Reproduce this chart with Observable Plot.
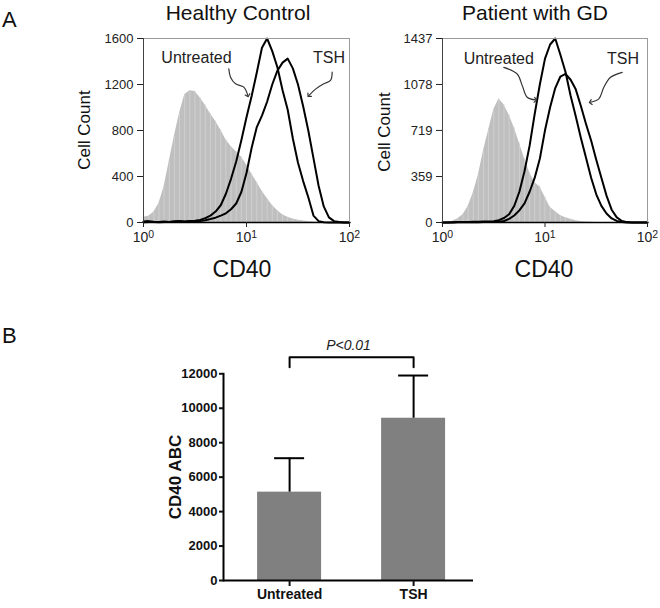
<!DOCTYPE html>
<html><head><meta charset="utf-8">
<script src="https://cdn.jsdelivr.net/npm/d3@7"></script>
<script src="https://cdn.jsdelivr.net/npm/@observablehq/plot@0.6"></script>
<style>
body{margin:0;background:#fff;}
#root{position:relative;width:660px;height:608px;overflow:hidden;font-family:"Liberation Sans",Arial,sans-serif;}
#root > svg{position:absolute;}
</style></head><body><div id="root"></div>
<script>
// ---- data: panel A (flow cytometry histograms, shared CD40 channels) ----
const cd40Channels = [1.000,1.122,1.259,1.413,1.585,1.778,1.995,2.239,2.512,2.818,3.162,3.548,3.981,4.467,5.012,5.623,6.310,7.079,7.943,8.913,10.00,11.22,12.59,14.13,15.85,17.78,19.95,22.39,25.12,28.18,31.62,35.48,39.81,44.67,50.12,56.23,63.10,70.79,79.43,89.13,100.0];
const hcShaded    = [45,55,90,165,310,530,750,950,1110,1145,1140,1085,1020,945,880,805,720,660,615,570,500,425,350,275,210,150,105,68,45,30,20,13,8,4,2,1,0,0,0,0,0];
const hcUntreated = [8,12,6,5,8,5,10,12,8,12,15,22,38,60,95,150,250,380,530,715,915,1100,1305,1520,1600,1490,1350,1150,980,730,520,360,220,60,12,3,0,0,0,0,0];
const hcTSH       = [3,5,4,3,5,4,6,8,6,8,10,14,20,30,42,60,80,115,165,265,430,650,830,930,1050,1200,1320,1390,1425,1340,1200,1010,800,560,320,140,45,12,4,0,0];
const gdShaded    = [0,2,10,30,60,125,230,370,560,720,880,965,920,840,740,620,500,390,310,280,200,120,85,55,38,25,14,7,4,2,0,0,0,0,0,0,0,0,0,0,0];
const gdUntreated = [0,0,2,3,3,4,5,6,7,8,10,18,35,65,130,240,400,600,850,1080,1280,1390,1437,1310,1175,990,830,660,505,350,220,130,70,32,12,4,0,0,0,0,0];
const gdTSH       = [0,0,0,1,1,2,2,2,3,3,4,5,12,28,55,95,150,240,350,500,720,900,1050,1140,1160,1115,1040,910,770,640,490,350,210,100,40,12,3,0,0,0,0];
const xTicks = [1, 10, 100];
const hcYTicks = [0, 400, 800, 1200, 1600];
const gdYTicks = [0, 359, 719, 1078, 1437];
const panelTitles = ["Healthy Control", "Patient with GD"];
// annotation labels and curly arrows (data coordinates: CD40, cell count)
const hcLabels = [{ch: 3.27, count: 1383, text: "Untreated"}, {ch: 63.2, count: 1383, text: "TSH"}];
const gdLabels = [{ch: 3.54, count: 1241, text: "Untreated"}, {ch: 57.7, count: 1241, text: "TSH"}];
const hcArrowUntreatedCh = [6.73, 7.0, 7.82, 9.42, 10.3];
const hcArrowUntreatedCt = [1337, 1264, 1206, 1177, 1104];
const hcArrowTSHCh = [67.9, 65.4, 56.3, 46.8, 40.3];
const hcArrowTSHCt = [1307, 1235, 1206, 1160, 1104];
const gdArrowUntreatedCh = [3.96, 5.35, 6.0, 6.7, 8.08];
const gdArrowUntreatedCt = [1212, 1161, 1069, 978, 957];
const gdArrowTSHCh = [56.6, 43.6, 37.5, 33.5, 27.8];
const gdArrowTSHCt = [1173, 1134, 1056, 965, 939];

// ---- data: panel B (bar chart) ----
const barGroups = ["Untreated", "TSH"];
const barMeans = [5130, 9420];
const barErrors = [1970, 2480];
const barYTicks = [0, 2000, 4000, 6000, 8000, 10000, 12000];
const bracketFoot = 12380;
const bracketTop = 12960;
const pLabel = "P<0.01";
const pLabelY = 13400;

const FONT = '"Liberation Sans", Arial, Helvetica, sans-serif';
const root = document.getElementById("root");
const supMap = {"⁰": "0", "¹": "1", "²": "2"};

function rows(counts) { return cd40Channels.map((ch, i) => ({ch, count: counts[i]})); }
function pts(chs, cts) { return chs.map((ch, i) => ({ch, count: cts[i]})); }

function histPanel({shaded, untreated, tsh, yTicks, labels, arrows, width, marginLeft, marginRight, left}) {
  const sh = rows(shaded), un = rows(untreated), ts = rows(tsh);
  const svg = Plot.plot({
    width, height: 290, marginTop: 38, marginBottom: 68, marginLeft, marginRight,
    x: {type: "log", domain: [1, 100]},
    y: {domain: [0, yTicks[yTicks.length - 1]]},
    style: {fontFamily: FONT, fontSize: "13px", color: "#222", background: "transparent", overflow: "visible"},
    marks: [
      Plot.areaY(sh, {x: "ch", y: "count", fill: "#bfbfbf"}),
      Plot.ruleX(sh, {x: "ch", y1: 0, y2: "count", stroke: "#d3d3d3", strokeWidth: 0.8}),
      Plot.lineY(un, {x: "ch", y: "count", stroke: "#000", strokeWidth: 2, strokeLinejoin: "round"}),
      Plot.lineY(ts, {x: "ch", y: "count", stroke: "#000", strokeWidth: 2, strokeLinejoin: "round"}),
      Plot.frame({stroke: "#9a9a9a"}),
      Plot.ruleX([1], {stroke: "#444"}),
      Plot.ruleY([0], {stroke: "#000", strokeWidth: 1.5}),
      Plot.axisX({ticks: xTicks, tickFormat: d => "10" + ["⁰", "¹", "²"][Math.round(Math.log10(d))], tickSize: 5, tickPadding: 5, fontSize: 14, label: null}),
      Plot.axisY({ticks: yTicks, tickFormat: d => String(d), tickSize: 6, tickPadding: 4, fontSize: 13, label: null}),
      Plot.text(labels, {x: "ch", y: "count", text: "text", fontSize: 16, lineAnchor: "bottom", textAnchor: "middle", fill: "#222"}),
      ...arrows.map(a => Plot.line(a, {x: "ch", y: "count", curve: "catmull-rom", markerEnd: "arrow", stroke: "#333", strokeWidth: 1.2}))
    ]
  });
  d3.select(svg).selectAll('g[aria-label="x-axis tick label"] text').each(function () {
    const s = this.textContent;
    const d = supMap[s.slice(-1)];
    if (d !== undefined) {
      this.textContent = "10";
      d3.select(this).append("tspan").attr("dy", "-0.45em").attr("font-size", "0.75em").text(d);
    }
  });
  svg.style.left = left + "px";
  svg.style.top = "0px";
  root.appendChild(svg);
}

histPanel({
  shaded: hcShaded, untreated: hcUntreated, tsh: hcTSH, yTicks: hcYTicks, labels: hcLabels,
  arrows: [pts(hcArrowUntreatedCh, hcArrowUntreatedCt), pts(hcArrowTSHCh, hcArrowTSHCt)],
  width: 355, marginLeft: 143, marginRight: 6, left: 0
});
histPanel({
  shaded: gdShaded, untreated: gdUntreated, tsh: gdTSH, yTicks: gdYTicks, labels: gdLabels,
  arrows: [pts(gdArrowUntreatedCh, gdArrowUntreatedCt), pts(gdArrowTSHCh, gdArrowTSHCt)],
  width: 305, marginLeft: 87, marginRight: 13, left: 355
});

// ---- panel B ----
const barRows = barGroups.map((g, i) => ({group: g, mean: barMeans[i], top: barMeans[i] + barErrors[i]}));
const bracket = [
  {group: barGroups[0], value: bracketFoot}, {group: barGroups[0], value: bracketTop},
  {group: barGroups[1], value: bracketTop}, {group: barGroups[1], value: bracketFoot}
];
const svgB = Plot.plot({
  width: 660, height: 308, marginTop: 73.3, marginBottom: 28, marginLeft: 223, marginRight: 187,
  x: {domain: barGroups, paddingInner: 0.484, paddingOuter: 0.25, align: 0.55, round: false},
  y: {domain: [0, 12000]},
  style: {fontFamily: FONT, fontSize: "13px", color: "#111", background: "transparent", overflow: "visible"},
  marks: [
    Plot.barY(barRows, {x: "group", y: "mean", fill: "#808080"}),
    Plot.ruleX(barRows, {x: "group", y1: "mean", y2: "top", stroke: "#000", strokeWidth: 2}),
    Plot.tickY(barRows, {x: "group", y: "top", stroke: "#000", strokeWidth: 2, insetLeft: 17, insetRight: 17}),
    Plot.line(bracket, {x: "group", y: "value", stroke: "#000", strokeWidth: 2}),
    Plot.text([{label: pLabel, y: pLabelY}], {y: "y", text: "label", frameAnchor: "middle", fontStyle: "italic", fontSize: 14, lineAnchor: "bottom", fill: "#222"}),
    Plot.ruleY([0], {stroke: "#000", strokeWidth: 2}),
    Plot.frame({anchor: "left", stroke: "#000", strokeWidth: 2}),
    Plot.axisY({ticks: barYTicks, tickFormat: d => String(d), tickSize: 4, tickPadding: 2, fontWeight: "bold", fontSize: 13, strokeWidth: 2, label: null}),
    Plot.axisX({tickSize: 6, tickPadding: 3, fontWeight: "bold", fontSize: 14, strokeWidth: 2, label: null})
  ]
});
svgB.style.left = "0px";
svgB.style.top = "300px";
root.appendChild(svgB);

// ---- overlay text: panel letters, titles, axis titles ----
const ov = d3.select(root).append("svg").attr("width", 660).attr("height", 608)
  .style("left", "0px").style("top", "0px").style("pointer-events", "none")
  .attr("font-family", FONT);
const texts = [
  {t: "A", x: 2, y: 27, size: 22, anchor: "start"},
  {t: "B", x: 2, y: 343, size: 22, anchor: "start"},
  {t: panelTitles[0], x: 238, y: 20, size: 21, anchor: "middle"},
  {t: panelTitles[1], x: 535, y: 20, size: 21, anchor: "middle"},
  {t: "CD40", x: 242, y: 277, size: 23, anchor: "middle"},
  {t: "CD40", x: 544, y: 277, size: 23, anchor: "middle"}
];
ov.selectAll("text.t").data(texts).join("text").attr("class", "t")
  .attr("x", d => d.x).attr("y", d => d.y).attr("font-size", d => d.size)
  .attr("text-anchor", d => d.anchor).attr("fill", "#111").text(d => d.t);
const rot = [
  {t: "Cell Count", x: 90, y: 130, size: 17, weight: "normal"},
  {t: "Cell Count", x: 390, y: 132, size: 17, weight: "normal"},
  {t: "CD40 ABC", x: 181, y: 477, size: 17, weight: "bold"}
];
ov.selectAll("text.r").data(rot).join("text").attr("class", "r")
  .attr("transform", d => `translate(${d.x},${d.y}) rotate(-90)`)
  .attr("font-size", d => d.size).attr("font-weight", d => d.weight)
  .attr("text-anchor", "middle").attr("fill", "#111").text(d => d.t);
</script>
</body></html>
